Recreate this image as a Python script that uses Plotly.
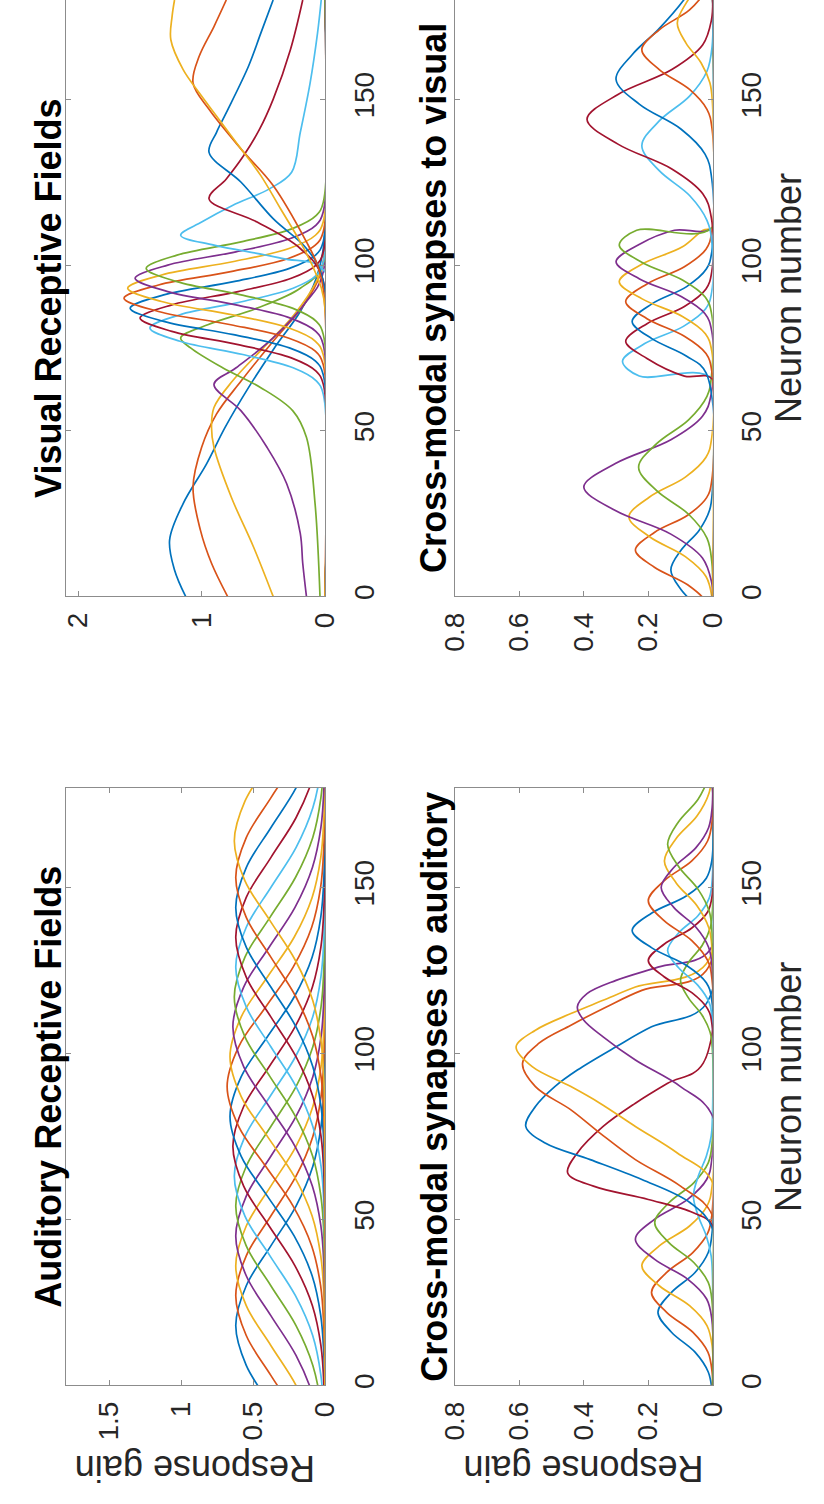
import plotly.graph_objects as go

W, H = 824, 1504
COLORS = ['#0072BD', '#D95319', '#EDB120', '#7E2F8E', '#77AC30', '#4DBEEE', '#A2142F']
FONT = "Liberation Sans, Arial, sans-serif"
AXC = "#8c8c8c"
TXT = "#262626"

# ---------------- data: Visual receptive fields (neuron number, response gain) ----------------
VIS_N = [
    [0, 8, 17, 28, 40, 51, 63, 75, 86, 96, 106, 180],
    [0, 10, 20, 33, 45, 55, 65, 77, 88, 97, 106, 180],
    [0, 15, 30, 45, 51, 57, 65, 75, 85, 95, 103, 180],
    [0, 10, 19, 34, 45, 56, 64, 69, 78, 89, 97, 180],
    [0, 28, 48, 56, 63, 69, 75, 78, 82, 87, 93, 100, 180],
    [0, 61, 65, 69, 73, 77, 81, 85, 89, 93, 97, 101, 180],
    [0, 64, 68, 72, 76, 80, 84, 88, 92, 96, 100, 104, 180],
    [0, 67, 71, 75, 79, 83, 87, 91, 95, 99, 103, 107, 180],
    [0, 70, 74, 78, 82, 86, 90, 94, 98, 102, 106, 110, 180],
    [0, 73, 77, 81, 85, 89, 93, 97, 101, 105, 109, 113, 180],
    [0, 76, 80, 84, 88, 92, 96, 100, 104, 108, 112, 116, 180],
    [0, 79, 83, 87, 91, 95, 99, 103, 107, 111, 115, 119, 180],
    [0, 98, 102, 106, 109, 113, 118, 123, 128, 140, 155, 170, 180],
    [0, 96, 105, 113, 120, 126, 133, 141, 150, 165, 180],
    [0, 96, 105, 114, 125, 134, 140, 146, 160, 170, 180],
    [0, 92, 100, 107, 124, 135, 147, 155, 163, 172, 180],
    [0, 90, 98, 107, 117, 127, 136, 145, 152, 159, 168, 175, 180],
]
VIS_G = [
    [1.13, 1.22, 1.26, 1.15, 0.96, 0.81, 0.62, 0.41, 0.2, 0.07, 0.01, 0.0],
    [0.79, 0.92, 1.01, 1.07, 1.0, 0.88, 0.68, 0.42, 0.17, 0.04, 0.0, 0.0],
    [0.42, 0.58, 0.76, 0.9, 0.92, 0.9, 0.75, 0.5, 0.25, 0.07, 0.0, 0.0],
    [0.15, 0.18, 0.2, 0.31, 0.47, 0.68, 0.9, 0.72, 0.42, 0.15, 0.02, 0.0],
    [0.04, 0.08, 0.15, 0.26, 0.52, 0.83, 1.09, 1.17, 0.95, 0.55, 0.2, 0.02, 0.0],
    [0, 0.013, 0.068, 0.258, 0.666, 1.176, 1.42, 1.176, 0.666, 0.258, 0.068, 0.013, 0],
    [0, 0.013, 0.072, 0.273, 0.704, 1.242, 1.5, 1.242, 0.704, 0.273, 0.072, 0.013, 0],
    [0, 0.014, 0.076, 0.288, 0.741, 1.308, 1.58, 1.308, 0.741, 0.288, 0.076, 0.014, 0],
    [0, 0.014, 0.078, 0.297, 0.764, 1.35, 1.63, 1.35, 0.764, 0.297, 0.078, 0.014, 0],
    [0, 0.014, 0.077, 0.291, 0.75, 1.325, 1.6, 1.325, 0.75, 0.291, 0.077, 0.014, 0],
    [0, 0.014, 0.074, 0.28, 0.722, 1.275, 1.54, 1.275, 0.722, 0.28, 0.074, 0.014, 0],
    [0, 0.013, 0.07, 0.264, 0.68, 1.2, 1.45, 1.2, 0.68, 0.264, 0.07, 0.013, 0],
    [0, 0, 0.35, 0.9, 1.17, 1.0, 0.75, 0.45, 0.27, 0.2, 0.12, 0.06, 0.03],
    [0, 0.02, 0.2, 0.55, 0.94, 0.8, 0.66, 0.53, 0.42, 0.28, 0.18],
    [0, 0.02, 0.15, 0.42, 0.68, 0.94, 0.88, 0.8, 0.62, 0.52, 0.42],
    [0, 0.01, 0.06, 0.15, 0.42, 0.68, 0.94, 1.07, 1.02, 0.9, 0.8],
    [0, 0.01, 0.08, 0.2, 0.36, 0.52, 0.7, 0.88, 1.02, 1.15, 1.25, 1.24, 1.22],
]

# ---------------- data: Cross-modal synapses to visual ----------------
CMV_N = [
    [-16, -10, -4, 2, 8, 14, 20, 26, 32, 180],
    [-7, -1.8, 3.5, 8.8, 14, 19.3, 24.5, 29.8, 35, 180],
    [0, 6, 12, 18, 24, 30, 36, 42, 48, 180],
    [0, 4.5, 11.6, 18.8, 25.9, 33, 40.1, 47.3, 54.4, 61.5, 180],
    [0, 10.5, 17.6, 24.8, 31.9, 39, 46.1, 53.3, 60.4, 67.5, 180],
    [0, 65.5, 66.5, 71, 76.3, 81.5, 86.8, 92, 180],
    [0, 65.5, 66.5, 71.8, 77, 82.3, 87.5, 92.8, 98, 180],
    [0, 67.3, 72.5, 77.8, 83, 88.3, 93.5, 98.8, 104, 180],
    [0, 68, 73.3, 78.5, 83.8, 89, 94.3, 99.5, 104.8, 110, 180],
    [0, 74, 79.3, 84.5, 89.8, 95, 100.3, 105.5, 110.5, 111.5, 180],
    [0, 80, 85.3, 90.5, 95.8, 101, 106.3, 110.5, 111.5, 180],
    [0, 85, 90.3, 95.5, 100.8, 106, 110.5, 111.5, 180],
    [0, 106, 113.5, 121, 128.5, 136, 143.5, 151, 158.5, 166, 180],
    [0, 114, 121.5, 129, 136.5, 144, 151.5, 159, 166.5, 174, 180],
    [0, 126, 133.5, 141, 148.5, 156, 163.5, 171, 180, 186],
    [0, 141, 147, 153, 159, 165, 171, 177, 183],
    [0, 149, 155, 161, 167, 173, 179, 185],
]
CMV_G = [
    [0.001, 0.01, 0.042, 0.098, 0.13, 0.098, 0.042, 0.01, 0.001, 0],
    [0.003, 0.019, 0.078, 0.181, 0.24, 0.181, 0.078, 0.019, 0.003, 0],
    [0.003, 0.021, 0.085, 0.196, 0.26, 0.196, 0.085, 0.021, 0.003, 0],
    [0, 0.004, 0.032, 0.13, 0.302, 0.4, 0.302, 0.13, 0.032, 0.004, 0],
    [0, 0.003, 0.018, 0.075, 0.174, 0.23, 0.174, 0.075, 0.018, 0.003, 0],
    [0, 0, 0.228, 0.28, 0.211, 0.091, 0.022, 0.003, 0],
    [0, 0, 0.088, 0.204, 0.27, 0.204, 0.088, 0.021, 0.003, 0],
    [0, 0.02, 0.081, 0.189, 0.25, 0.189, 0.081, 0.02, 0.003, 0],
    [0, 0.003, 0.021, 0.088, 0.204, 0.27, 0.204, 0.088, 0.021, 0.003, 0],
    [0, 0.003, 0.023, 0.094, 0.219, 0.29, 0.219, 0.094, 0.03, 0, 0],
    [0, 0.003, 0.024, 0.098, 0.227, 0.3, 0.227, 0.119, 0, 0],
    [0, 0.003, 0.023, 0.094, 0.219, 0.29, 0.236, 0, 0],
    [0, 0.002, 0.018, 0.072, 0.166, 0.22, 0.166, 0.072, 0.018, 0.002, 0],
    [0, 0.004, 0.031, 0.127, 0.294, 0.39, 0.294, 0.127, 0.031, 0.004, 0],
    [0, 0.003, 0.024, 0.098, 0.227, 0.3, 0.25, 0.17, 0.09, 0.05],
    [0, 0.002, 0.018, 0.072, 0.166, 0.22, 0.166, 0.072, 0.018],
    [0, 0.001, 0.009, 0.036, 0.083, 0.11, 0.083, 0.036],
]

# ---------------- data: Auditory receptive fields ----------------
AUD_N = [
    [-54, -42, -30, -18, -6, 6, 18, 30, 42, 54, 66, 78, 90, 180],
    [-45, -33, -21, -9, 3, 15, 27, 39, 51, 63, 75, 87, 99, 180],
    [-36, -24, -12, 0, 12, 24, 36, 48, 60, 72, 84, 96, 108, 180],
    [-27, -15, -3, 9, 21, 33, 45, 57, 69, 81, 93, 105, 117, 180],
    [-18, -6, 6, 18, 30, 42, 54, 66, 78, 90, 102, 114, 126, 180],
    [-9, 3, 15, 27, 39, 51, 63, 75, 87, 99, 111, 123, 135, 180],
    [0, 12, 24, 36, 48, 60, 72, 84, 96, 108, 120, 132, 144, 180],
    [0, 9, 21, 33, 45, 57, 69, 81, 93, 105, 117, 129, 141, 153, 180],
    [0, 18, 30, 42, 54, 66, 78, 90, 102, 114, 126, 138, 150, 162, 180],
    [0, 27, 39, 51, 63, 75, 87, 99, 111, 123, 135, 147, 159, 171, 180],
    [0, 36, 48, 60, 72, 84, 96, 108, 120, 132, 144, 156, 168, 180],
    [0, 45, 57, 69, 81, 93, 105, 117, 129, 141, 153, 165, 177, 189],
    [0, 54, 66, 78, 90, 102, 114, 126, 138, 150, 162, 174, 186, 198],
    [0, 63, 75, 87, 99, 111, 123, 135, 147, 159, 171, 183, 195, 207],
    [0, 72, 84, 96, 108, 120, 132, 144, 156, 168, 180, 192, 204, 216],
    [0, 81, 93, 105, 117, 129, 141, 153, 165, 177, 189, 201, 213, 225],
    [0, 92, 104, 116, 128, 140, 152, 164, 176, 188, 200, 212, 224, 236],
]
AUD_G = [
    [0.007, 0.027, 0.084, 0.201, 0.376, 0.547, 0.62, 0.547, 0.376, 0.201, 0.084, 0.027, 0.007, 0],
    [0.007, 0.027, 0.084, 0.201, 0.376, 0.547, 0.62, 0.547, 0.376, 0.201, 0.084, 0.027, 0.007, 0],
    [0.007, 0.027, 0.084, 0.201, 0.376, 0.547, 0.62, 0.547, 0.376, 0.201, 0.084, 0.027, 0.007, 0],
    [0.007, 0.027, 0.084, 0.201, 0.376, 0.547, 0.62, 0.547, 0.376, 0.201, 0.084, 0.027, 0.007, 0],
    [0.007, 0.027, 0.084, 0.201, 0.376, 0.547, 0.62, 0.547, 0.376, 0.201, 0.084, 0.027, 0.007, 0],
    [0.007, 0.028, 0.085, 0.205, 0.382, 0.556, 0.63, 0.556, 0.382, 0.205, 0.085, 0.028, 0.007, 0],
    [0.007, 0.028, 0.087, 0.208, 0.388, 0.565, 0.64, 0.565, 0.388, 0.208, 0.087, 0.028, 0.007, 0],
    [0, 0.007, 0.029, 0.089, 0.214, 0.4, 0.582, 0.66, 0.582, 0.4, 0.214, 0.089, 0.029, 0.007, 0],
    [0, 0.008, 0.03, 0.092, 0.221, 0.412, 0.6, 0.68, 0.6, 0.412, 0.221, 0.092, 0.03, 0.008, 0],
    [0, 0.007, 0.029, 0.089, 0.214, 0.4, 0.582, 0.66, 0.582, 0.4, 0.214, 0.089, 0.029, 0.007, 0],
    [0, 0.007, 0.028, 0.087, 0.208, 0.388, 0.565, 0.64, 0.565, 0.388, 0.208, 0.087, 0.028, 0.007],
    [0, 0.007, 0.028, 0.085, 0.205, 0.382, 0.556, 0.63, 0.556, 0.382, 0.205, 0.085, 0.028, 0.007],
    [0, 0.007, 0.027, 0.084, 0.201, 0.376, 0.547, 0.62, 0.547, 0.376, 0.201, 0.084, 0.027, 0.007],
    [0, 0.007, 0.027, 0.084, 0.201, 0.376, 0.547, 0.62, 0.547, 0.376, 0.201, 0.084, 0.027, 0.007],
    [0, 0.007, 0.027, 0.084, 0.201, 0.376, 0.547, 0.62, 0.547, 0.376, 0.201, 0.084, 0.027, 0.007],
    [0, 0.007, 0.027, 0.084, 0.201, 0.376, 0.547, 0.62, 0.547, 0.376, 0.201, 0.084, 0.027, 0.007],
    [0, 0.007, 0.028, 0.085, 0.205, 0.382, 0.556, 0.63, 0.556, 0.382, 0.205, 0.085, 0.028, 0.007],
]

# ---------------- data: Cross-modal synapses to auditory ----------------
CMA_N = [
    [-2, 4, 10, 16, 22, 28, 34, 40, 46, 180],
    [0, 4, 10, 16, 22, 28, 34, 40, 46, 52, 180],
    [0, 12, 18, 24, 30, 36, 42, 48, 54, 60, 180],
    [0, 20, 26, 32, 38, 44, 50, 56, 62, 68, 180],
    [0, 25, 31, 37, 43, 49, 55, 61, 67, 73, 180],
    [0, 33, 39, 45, 51, 57, 63, 69, 75, 81, 180],
    [0, 48, 52, 56, 60, 64, 70, 78, 85, 91, 97, 180],
    [0, 47, 55, 62, 68, 73, 78, 84, 90, 95, 102, 108, 115, 180],
    [0, 51, 60, 68, 76, 83, 90, 97, 103, 108.5, 114, 119, 125, 180],
    [0, 61, 70, 78, 85, 90, 96, 102, 107, 112, 116, 120, 127, 180],
    [0, 81, 90, 98, 105, 110, 114, 118, 122, 126, 131, 180],
    [0, 101, 106.3, 111.5, 116.8, 122, 127.3, 132.5, 137.8, 143, 180],
    [0, 110, 115.3, 120.5, 125.8, 131, 136.3, 141.5, 146.8, 152, 180],
    [0, 108.5, 113.4, 118.3, 123.1, 128, 132.9, 137.8, 142.6, 147.5, 180],
    [0, 116, 121.3, 126.5, 131.8, 137, 142.3, 147.5, 152.8, 158, 180],
    [0, 122, 128, 134, 140, 146, 152, 158, 164, 170, 180],
    [0, 131, 137.8, 144.5, 151.3, 158, 164.8, 171.5, 178.3, 185],
    [0, 126, 132, 138, 144, 150, 156, 162, 168, 174, 180],
    [0, 136, 142.8, 149.5, 156.3, 163, 169.8, 176.5, 183.3],
]
CMA_G = [
    [0.002, 0.014, 0.055, 0.128, 0.17, 0.128, 0.055, 0.014, 0.002, 0],
    [0, 0.002, 0.015, 0.062, 0.143, 0.19, 0.143, 0.062, 0.015, 0.002, 0],
    [0, 0.002, 0.018, 0.072, 0.166, 0.22, 0.166, 0.072, 0.018, 0.002, 0],
    [0, 0.003, 0.019, 0.078, 0.181, 0.24, 0.181, 0.078, 0.019, 0.003, 0],
    [0, 0.002, 0.014, 0.059, 0.136, 0.18, 0.136, 0.059, 0.014, 0.002, 0],
    [0, 0.001, 0.005, 0.02, 0.045, 0.06, 0.045, 0.02, 0.005, 0.001, 0],
    [0, 0, 0.06, 0.2, 0.37, 0.45, 0.42, 0.34, 0.24, 0.14, 0.03, 0],
    [0, 0, 0.07, 0.22, 0.38, 0.52, 0.58, 0.55, 0.49, 0.42, 0.3, 0.19, 0.02, 0],
    [0, 0, 0.1, 0.24, 0.35, 0.44, 0.55, 0.59, 0.54, 0.44, 0.33, 0.22, 0.02, 0],
    [0, 0, 0.11, 0.24, 0.35, 0.44, 0.56, 0.61, 0.55, 0.44, 0.34, 0.24, 0.02, 0],
    [0, 0, 0.1, 0.24, 0.34, 0.4, 0.42, 0.39, 0.3, 0.17, 0.01, 0],
    [0, 0.001, 0.008, 0.033, 0.076, 0.1, 0.076, 0.033, 0.008, 0.001, 0],
    [0, 0.002, 0.011, 0.046, 0.106, 0.14, 0.106, 0.046, 0.011, 0.002, 0],
    [0, 0.002, 0.016, 0.065, 0.151, 0.2, 0.151, 0.065, 0.016, 0.002, 0],
    [0, 0.003, 0.02, 0.081, 0.189, 0.25, 0.189, 0.081, 0.02, 0.003, 0],
    [0, 0.002, 0.016, 0.065, 0.151, 0.2, 0.151, 0.065, 0.016, 0.002, 0],
    [0, 0.002, 0.012, 0.049, 0.113, 0.15, 0.113, 0.049, 0.012, 0.002],
    [0, 0.002, 0.013, 0.052, 0.121, 0.16, 0.121, 0.052, 0.013, 0.002, 0],
    [0, 0.002, 0.011, 0.046, 0.106, 0.14, 0.106, 0.046, 0.011],
]

TITLES = ["Visual Receptive Fields", "Cross-modal synapses to visual",
          "Auditory Receptive Fields", "Cross-modal synapses to auditory"]
GAIN_RANGES = [[2.1, 0], [0.8, 0], [1.8, 0], [0.8, 0]]
GAIN_TICKS = [[0, 1, 2], [0, 0.2, 0.4, 0.6, 0.8], [0, 0.5, 1, 1.5], [0, 0.2, 0.4, 0.6, 0.8]]
NEURON_TICKS = [0, 50, 100, 150]

# ---------------- figure ----------------
fig = go.Figure()
panel_data = [(VIS_N, VIS_G), (CMV_N, CMV_G), (AUD_N, AUD_G), (CMA_N, CMA_G)]
for p, (NN, GG) in enumerate(panel_data):
    xa = "x" if p == 0 else f"x{p+1}"
    ya = "y" if p == 0 else f"y{p+1}"
    for i, (n, g) in enumerate(zip(NN, GG)):
        fig.add_trace(go.Scatter(
            x=g, y=n, mode="lines", xaxis=xa, yaxis=ya,
            line=dict(color=COLORS[i % 7], width=1.7, shape="spline", smoothing=1.0),
            showlegend=False, hoverinfo="skip"))

# pixel boxes of the four panels (left, right, top, bottom)
BOXES = [(52, 321, 0, 598), (456, 724, 0, 598), (52, 321, 790, 1389), (456, 724, 790, 1389)]

common = dict(showgrid=False, zeroline=False, showline=True, linecolor=AXC, linewidth=1.2,
              ticks="inside", ticklen=5, tickwidth=1, tickcolor=AXC,
              tickfont=dict(family=FONT, size=28, color=TXT), tickangle=-90)

layout = dict(width=W, height=H, margin=dict(l=0, r=0, t=0, b=0),
              paper_bgcolor="white", plot_bgcolor="white", showlegend=False)
for p, (l, r, t, b) in enumerate(BOXES):
    xk = "xaxis" if p == 0 else f"xaxis{p+1}"
    yk = "yaxis" if p == 0 else f"yaxis{p+1}"
    ya = "y" if p == 0 else f"y{p+1}"
    xa = "x" if p == 0 else f"x{p+1}"
    top_row = p < 2
    layout[xk] = dict(domain=[l / W, r / W], range=GAIN_RANGES[p], tickvals=GAIN_TICKS[p],
                      anchor=ya, side="bottom", ticklabelstandoff=4,
                      mirror=False if top_row else "ticks", **common)
    layout[yk] = dict(domain=[1 - b / H, 1 - t / H], range=[0, 180], tickvals=NEURON_TICKS,
                      anchor=xa, side="right", ticklabelstandoff=14, mirror="ticks", **common)
fig.update_layout(**layout)

ann = []
title_pos = [(33, 299), (434, 299), (33, 1090), (434, 1090)]
for txt, (px, py) in zip(TITLES, title_pos):
    ann.append(dict(text=f"<b>{txt}</b>", x=px / W, y=1 - py / H, xref="paper", yref="paper",
                    showarrow=False, textangle=-90, xanchor="center", yanchor="middle",
                    font=dict(family=FONT, size=36, color="black")))
for px, py in [(802, 299), (802, 1090)]:
    ann.append(dict(text="Neuron number", x=px / W, y=1 - py / H, xref="paper", yref="paper",
                    showarrow=False, textangle=-90, xanchor="center", yanchor="middle",
                    font=dict(family=FONT, size=36, color=TXT)))
for px, py in [(186, 1473), (590, 1473)]:
    ann.append(dict(text="Response gain", x=px / W, y=1 - py / H, xref="paper", yref="paper",
                    showarrow=False, textangle=180, xanchor="center", yanchor="middle",
                    font=dict(family=FONT, size=36, color=TXT)))
fig.update_layout(annotations=ann)

fig.write_html("out.html")
